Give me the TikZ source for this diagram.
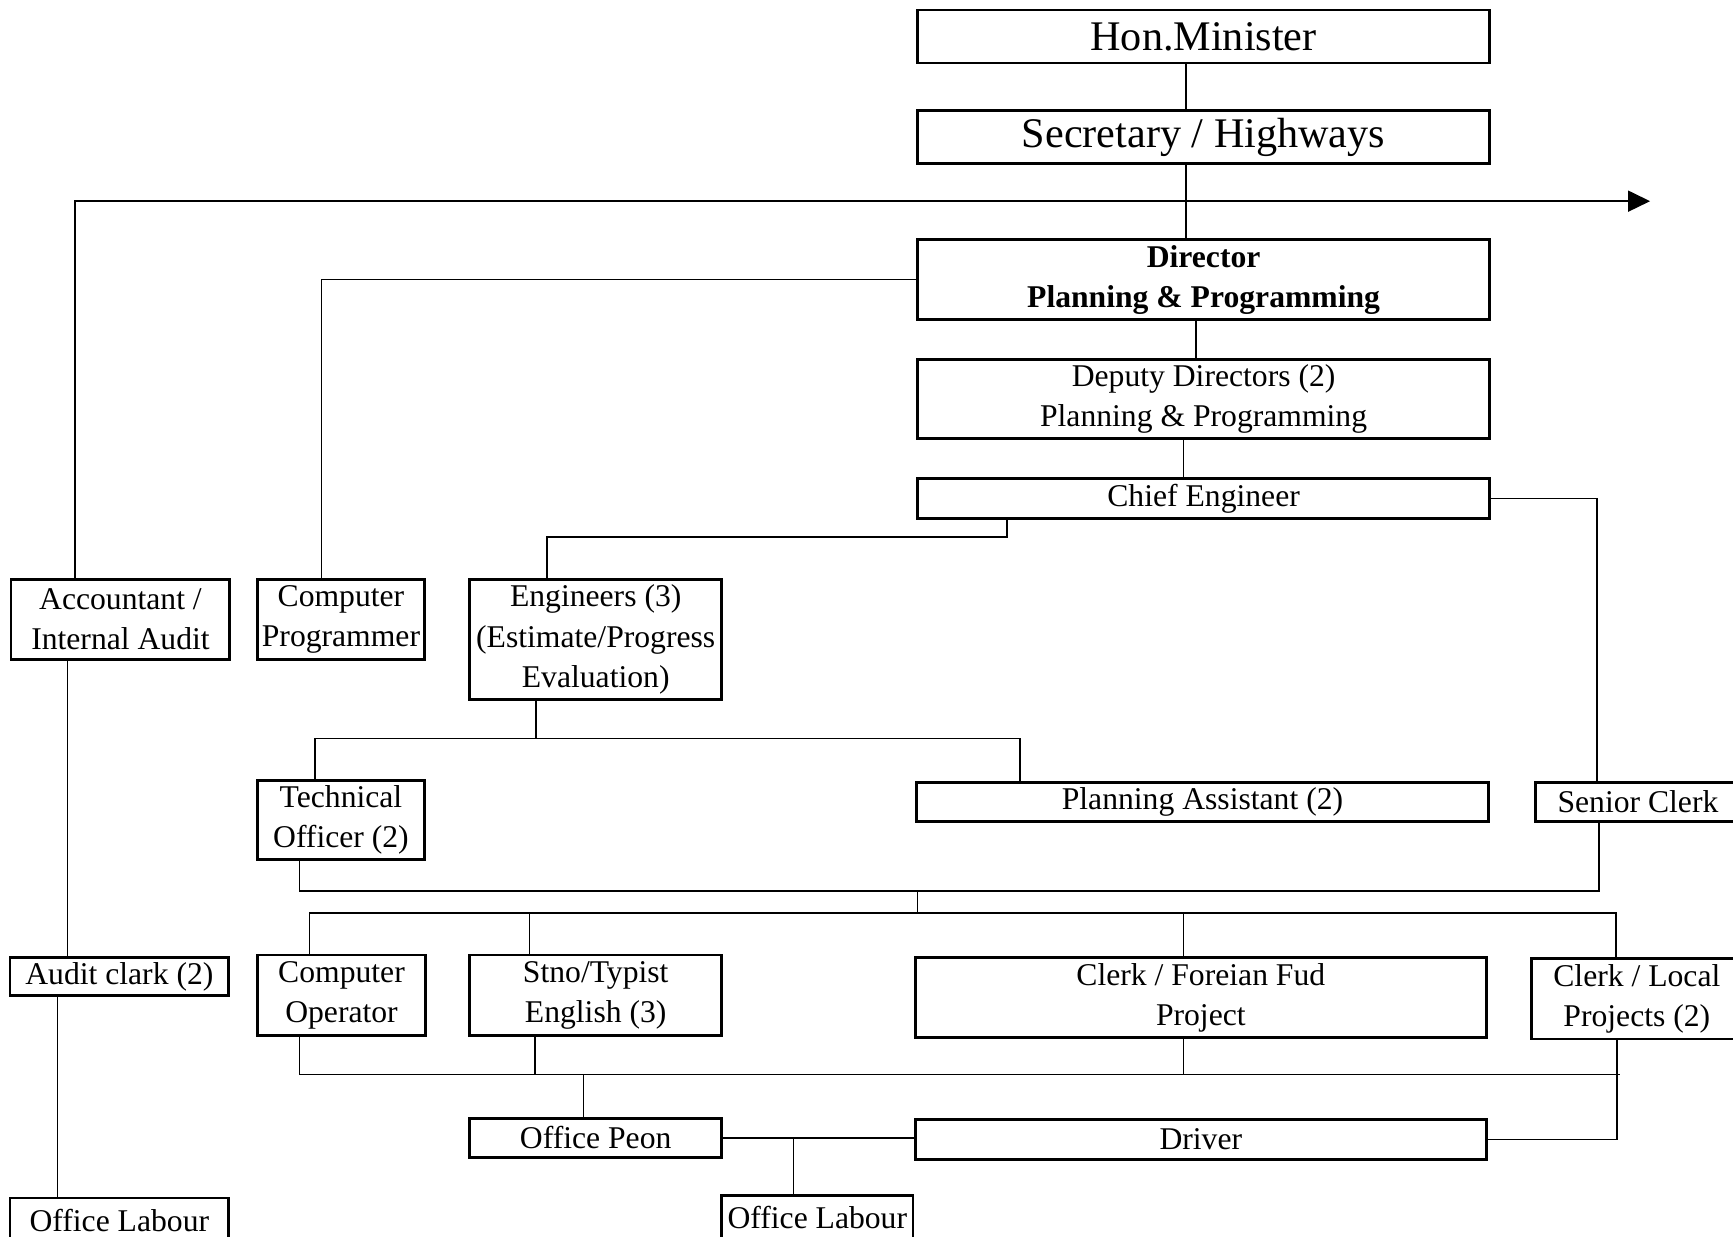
\documentclass[tikz,border=0pt]{standalone}
\usepackage{fontspec}
\setmainfont{Liberation Serif}
\usetikzlibrary{arrows,arrows.meta}
\newcommand{\pxl}{0.01105cm}

\begin{document}
\begin{tikzpicture}[x=0.01105cm,y=-0.01105cm]
\tikzstyle{block} = [rectangle, draw, line width=0.8pt, inner sep=0pt,
align=center, font=\fontsize{9}{11.4}\selectfont]
\tikzstyle{head} = [block, font=\fontsize{12}{14}\selectfont]
\tikzstyle{line} = [draw, line width=0.45pt]
\tikzset{wh/.style 2 args={minimum width=#1*\pxl, minimum height=#2*\pxl}}
\useasboundingbox (0,0) rectangle (1568,1119);

% top of the chart
\node [head, wh={518}{48}] (hon) at (1089,33) {Hon.Minister};
\node [head, wh={518}{48}] (sec) at (1089,124) {Secretary / Highways};
\node [block, wh={518}{72}] (dir) at (1089,253) {\bfseries Director\\ \bfseries Planning \& Programming};
\node [block, wh={518}{72}] (dep) at (1089,361) {Deputy Directors (2)\\ Planning \& Programming};
\node [block, wh={518}{36}] (chief) at (1089,451) {Chief Engineer};
% row 1
\node [block, wh={198}{73}] (acct) at (109,560.5) {Accountant /\\ Internal Audit};
\node [block, wh={151}{73}] (prog) at (308.5,560.5) {Computer\\ Programmer};
\node [block, wh={228}{109}] (eng) at (539,578.5) {Engineers (3)\\ (Estimate/Progress\\ Evaluation)};
% row 2
\node [block, wh={151}{72}] (tech) at (308.5,742) {Technical\\ Officer (2)};
\node [block, wh={518}{35}] (plan) at (1088,725.5) {Planning Assistant (2)};
\node [block, wh={186}{35}] (senior) at (1482,725.5) {Senior Clerk};
% row 3
\node [block, wh={198}{35}] (audit) at (108,883.5) {Audit clark (2)};
\node [block, wh={152}{73}] (cop) at (309,900.5) {Computer\\ Operator};
\node [block, wh={228}{73}] (stno) at (539,900.5) {Stno/Typist\\ English (3)};
\node [block, wh={517}{73}] (cff) at (1086.5,902.5) {Clerk / Foreian Fud\\ Project};
\node [block, wh={190}{73}] (clocal) at (1481,903.5) {Clerk / Local\\ Projects (2)};
% row 4
\node [block, wh={228}{35}] (peon) at (539,1029.5) {Office Peon};
\node [block, wh={517}{36}] (driver) at (1086.5,1031) {Driver};
\node [block, wh={198}{40}] (lab1) at (108,1104) {Office Labour};
\node [block, wh={173}{40}] (lab2) at (739.5,1102) {Office Labour};

% junctions
\coordinate (jspine) at (1073,181);
\coordinate (jacct) at (68,181);
\coordinate (jarrow) at (1493,182);
\coordinate (jprog) at (291,250);
\coordinate (jdd) at (1082,0);
\coordinate (jdc) at (1071,0);
\coordinate (jce) at (911,486);
\coordinate (jeng) at (495,486);
\coordinate (jsc) at (1445,0);
\coordinate (jeb) at (485,668);
\coordinate (jtech) at (285,668);
\coordinate (jplan) at (923,668);
\coordinate (jtl) at (271,806);
\coordinate (jsl) at (1447,806);
\coordinate (jmid) at (830,806);
\coordinate (jbus) at (830,826);
\coordinate (jcop) at (280,826);
\coordinate (jst) at (479,826);
\coordinate (jcff) at (1071,826);
\coordinate (jcl) at (1462,826);
\coordinate (jaa) at (61,0);
\coordinate (jal) at (52,0);
\coordinate (jb1) at (271,972);
\coordinate (jb2) at (1466,972);
\coordinate (jb3) at (484,972);
\coordinate (jb4) at (1071,972);
\coordinate (jpe) at (528,972);
\coordinate (jdr) at (1463,0);
\coordinate (jol) at (718,1030);

\tikzstyle{every path}=[line]
\path (hon.south -| jspine) -- (sec.north -| jspine);
\path (sec.south -| jspine) -- (dir.north -| jspine);
\path[-{Triangle[length=2.2mm,width=2.1mm]}] (acct.north -| jacct) |- (jarrow);
\path (dir.west) -| (prog.north -| jprog);
\path (dir.south -| jdd) -- (dep.north -| jdd);
\path (dep.south -| jdc) -- (chief.north -| jdc);
\path (chief.south -| jce) -- (jce) -- (jeng) -- (eng.north -| jeng);
\path (chief.east) -| (senior.north -| jsc);
\path (eng.south -| jeb) -- (jeb);
\path (tech.north -| jtech) -- (jtech) -- (jplan) -- (plan.north -| jplan);
\path (tech.south -| jtl) -- (jtl) -- (jsl) -- (senior.south -| jsl);
\path (jmid) -- (jbus);
\path (cop.north -| jcop) -- (jcop) -- (jcl) -- (clocal.north -| jcl);
\path (jst) -- (stno.north -| jst);
\path (jcff) -- (cff.north -| jcff);
\path (acct.south -| jaa) -- (audit.north -| jaa);
\path (audit.south -| jal) -- (lab1.north -| jal);
\path (cop.south -| jb1) -- (jb1) -- (jb2);
\path (stno.south -| jb3) -- (jb3);
\path (cff.south -| jb4) -- (jb4);
\path (clocal.south -| jdr) |- (driver.east);
\path (jpe) -- (peon.north -| jpe);
\path (peon.east) -- (peon.east -| driver.west);
\path (jol) -- (lab2.north -| jol);

\end{tikzpicture}
\end{document}
